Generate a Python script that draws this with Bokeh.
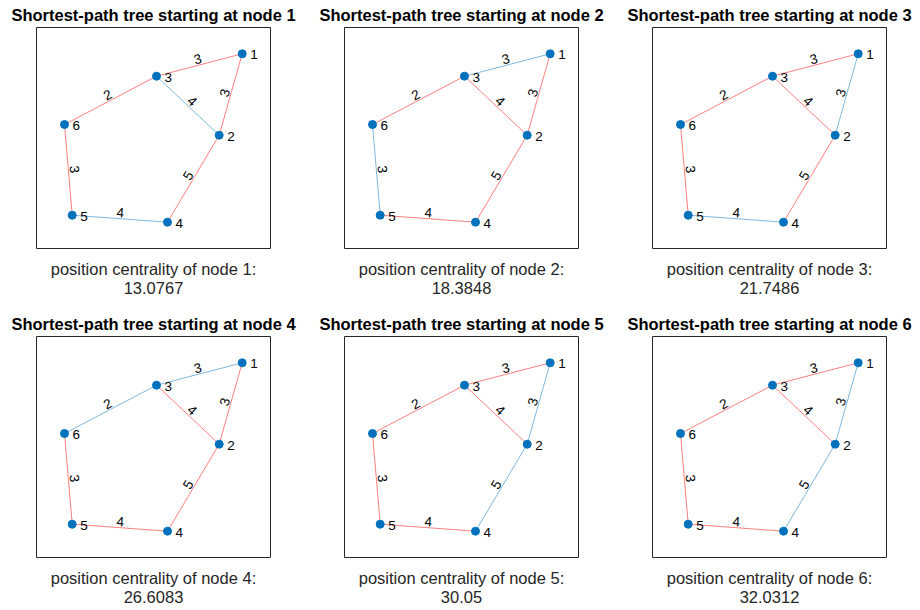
import numpy as np
from bokeh.plotting import figure
from bokeh.models import Range1d
from bokeh.core.properties import value
from bokeh.embed import file_html
from bokeh.resources import INLINE

# ---- data ----
node_names = ["1", "2", "3", "4", "5", "6"]
# layout coordinates of the nodes (box = 234 x 221 units, origin bottom-left)
node_x = [205.7, 182.7, 120.0, 131.0, 35.7, 28.0]
node_y = [194.7, 113.3, 172.3, 26.3, 33.3, 124.0]
edge_s = [1, 1, 2, 2, 3, 4, 5]
edge_t = [2, 3, 3, 4, 6, 5, 6]
edge_w = [3, 3, 4, 5, 2, 4, 3]
# 1 = edge belongs to the shortest-path tree from the start node (highlighted red)
tree_from_1 = [1, 1, 0, 1, 1, 0, 1]
tree_from_2 = [1, 0, 1, 1, 1, 1, 0]
tree_from_3 = [0, 1, 1, 1, 1, 0, 1]
tree_from_4 = [1, 0, 1, 1, 0, 1, 1]
tree_from_5 = [0, 1, 1, 0, 1, 1, 1]
tree_from_6 = [0, 1, 1, 0, 1, 1, 1]
trees = [tree_from_1, tree_from_2, tree_from_3, tree_from_4, tree_from_5, tree_from_6]
centrality = ["13.0767", "18.3848", "21.7486", "26.6083", "30.05", "32.0312"]

# ---- layout ----
W, H = 920, 610
BOX_W, BOX_H = 234, 221
COL_DX, ROW_DY = 308, 309
FONT = value("Liberation Sans")
BLUE = "#0072BD"
RED = "#FF0000"
TXT = "#262626"
LBL = "#000000"

p = figure(width=W, height=H, output_backend="svg", toolbar_location=None,
           x_range=Range1d(0, W), y_range=Range1d(0, H),
           x_axis_location=None, y_axis_location=None, min_border=0)
p.grid.visible = False
p.outline_line_color = None
p.background_fill_color = "white"
p.border_fill_color = "white"

nx = np.array(node_x)
ny = np.array(node_y)
si = np.array(edge_s) - 1
ti = np.array(edge_t) - 1

for k in range(6):
    r, c = divmod(k, 3)
    ox = 36 + COL_DX * c
    oy = 362 - ROW_DY * r
    # box
    p.quad(left=[ox], right=[ox + BOX_W], bottom=[oy], top=[oy + BOX_H],
           fill_color=None, line_color=TXT, line_width=1)
    x = nx + ox
    y = ny + oy
    red = np.array(trees[k]) == 1
    xs = [[x[a], x[b]] for a, b in zip(si, ti)]
    ys = [[y[a], y[b]] for a, b in zip(si, ti)]
    cols = [RED if f else BLUE for f in red]
    p.multi_line(xs=xs, ys=ys, line_color=cols, line_alpha=0.5, line_width=1)
    # edge labels (along the edge, just above it)
    ang = np.arctan2(y[ti] - y[si], x[ti] - x[si])
    ang = np.where(ang > np.pi / 2, ang - np.pi, ang)
    ang = np.where(ang <= -np.pi / 2, ang + np.pi, ang)
    d = 1.5
    mx = (x[si] + x[ti]) / 2 - d * np.sin(ang)
    my = (y[si] + y[ti]) / 2 + d * np.cos(ang)
    p.text(x=mx, y=my, text=[str(w) for w in edge_w], angle=ang,
           text_align="center", text_baseline="bottom",
           text_font=FONT, text_font_size="13.5px", text_color=LBL)
    # nodes
    p.scatter(x=x, y=y, size=8, fill_color=BLUE, line_color=BLUE)
    p.text(x=x, y=y, text=node_names, x_offset=8, y_offset=1,
           text_align="left", text_baseline="middle",
           text_font=FONT, text_font_size="13.5px", text_color=LBL)
    # title
    cx = ox + BOX_W / 2
    p.text(x=[cx], y=[oy + BOX_H + 12.2], text=["Shortest-path tree starting at node %d" % (k + 1)],
           text_align="center", text_baseline="middle",
           text_font=FONT, text_font_size="16.5px", text_font_style="bold", text_color="#000000")
    # x label (two lines)
    p.text(x=[cx, cx], y=[oy - 20.0, oy - 39.3],
           text=["position centrality of node %d:" % (k + 1), centrality[k]],
           text_align="center", text_baseline="middle",
           text_font=FONT, text_font_size="16.5px", text_color=TXT)

open("out.html", "w").write(file_html(p, INLINE))
